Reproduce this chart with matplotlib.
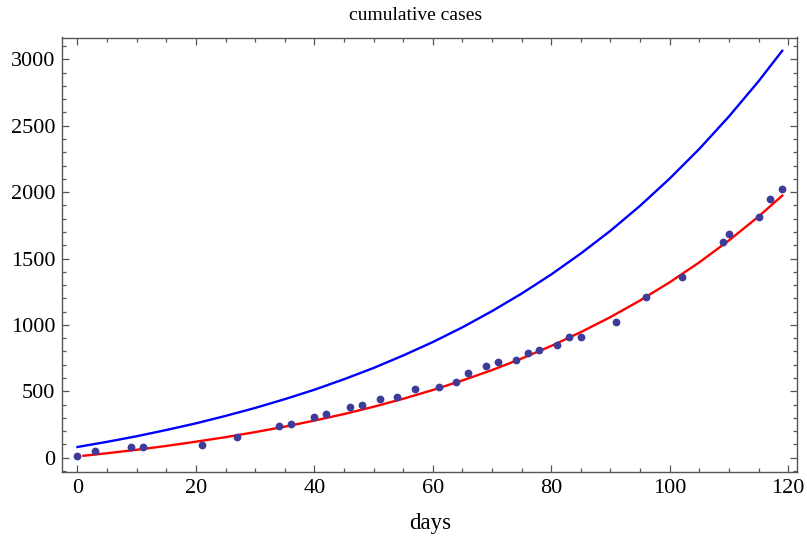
import matplotlib
matplotlib.use("Agg")
import matplotlib.pyplot as plt
from matplotlib.ticker import MultipleLocator

# observed data points
days = [0, 3, 9, 11, 21, 27, 34, 36, 40, 42, 46, 48, 51, 54, 57, 61, 64, 66,
        69, 71, 74, 76, 78, 81, 83, 85, 91, 96, 102, 109, 110, 115, 117, 119]
cases = [13, 53, 81, 81, 93, 158, 239, 252, 307, 332, 385, 400, 441, 456, 519,
         534, 574, 640, 693, 721, 733, 786, 814, 852, 907, 907, 1025, 1212,
         1360, 1628, 1681, 1814, 1945, 2025]

# blue curve
blue_t = [0, 5, 10, 15, 20, 25, 30, 35, 40, 45, 50, 55, 60, 65, 70, 75, 80,
          85, 90, 95, 100, 105, 110, 115, 119]
blue_v = [81, 120, 162, 209, 259, 315, 375, 441, 512, 591, 676, 770, 871, 982,
          1104, 1236, 1380, 1538, 1709, 1897, 2102, 2325, 2569, 2834, 3064]

# red curve
red_t = [1, 5, 10, 15, 20, 25, 30, 35, 40, 45, 50, 55, 60, 65, 70, 75, 80, 85,
         90, 95, 100, 105, 110, 115, 119]
red_v = [15, 34, 60, 89, 121, 155, 193, 234, 280, 329, 384, 444, 510, 582, 660,
         747, 842, 946, 1059, 1184, 1321, 1471, 1636, 1816, 1973]

xticks = [0, 20, 40, 60, 80, 100, 120]
yticks = [0, 500, 1000, 1500, 2000, 2500, 3000]

plt.rcParams['font.family'] = ['Liberation Serif', 'DejaVu Serif']

fig = plt.figure(figsize=(8.07, 5.41), dpi=100)
ax = fig.add_axes([62.5/807, 1-471.7/541, (797-62.5)/807, (471.7-37.5)/541])

ax.plot(blue_t, blue_v, color='#0000ff', lw=1.7, zorder=2)
ax.plot(red_t, red_v, color='#ff0000', lw=1.7, zorder=3)
ax.plot(days, cases, 'o', color='#3d3d99', ms=5.6, mec='none', zorder=4)

ax.set_xlim(-2.53, 121.5)
ax.set_ylim(-105, 3164)
ax.set_xticks(xticks)
ax.set_yticks(yticks)
ax.xaxis.set_minor_locator(MultipleLocator(5))
ax.yaxis.set_minor_locator(MultipleLocator(100))
ax.tick_params(which='both', direction='in', top=True, right=True,
               color='#555555', width=0.9, labelsize=16, pad=5)
ax.tick_params(which='major', length=5)
ax.tick_params(which='minor', length=2.8)
for s in ax.spines.values():
    s.set_color('#555555')
    s.set_linewidth(1.0)

ax.set_xlabel('days', fontsize=16.5, labelpad=11)
fig.text(416/807, 1-20/541, 'cumulative cases', ha='center', va='baseline',
         fontsize=14)

fig.savefig('out.png', dpi=100)
